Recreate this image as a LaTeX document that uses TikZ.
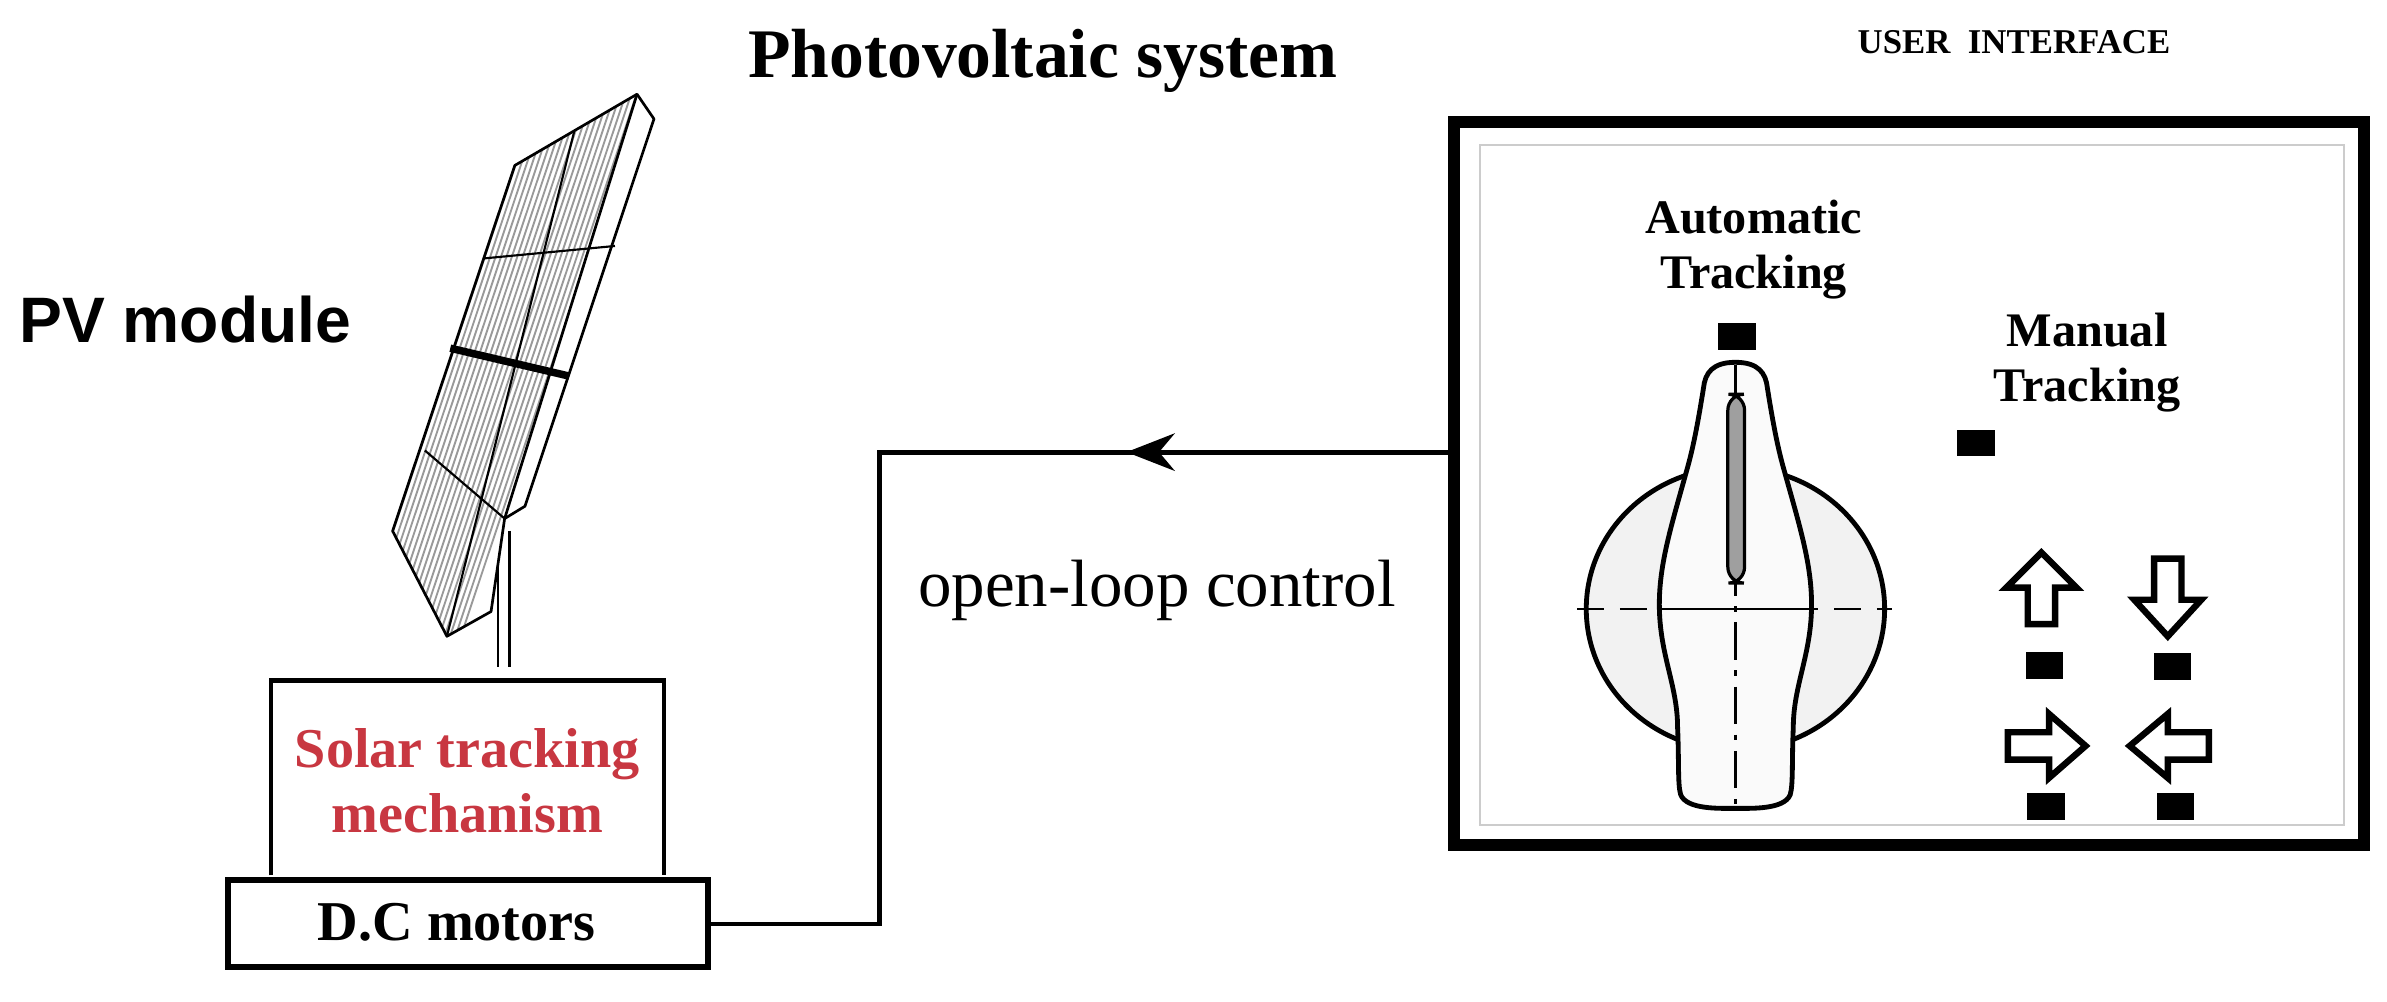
\documentclass[tikz,border=0pt]{standalone}
\usepackage{fontspec}
\setmainfont{Liberation Serif}
\newfontfamily\arialf{Liberation Sans}
\usetikzlibrary{arrows.meta}
\definecolor{redtxt}{RGB}{200,55,65}
\begin{document}
\begin{tikzpicture}[x=0.01cm,y=-0.01cm,
  sq/.style={fill=black,minimum width=7pt,minimum height=5pt,inner sep=0pt},
  blk/.style={draw=black,line width=1.2pt,fill=white,line join=miter},
  lbl/.style={font=\bfseries\fontsize{9}{10.3}\selectfont,align=center,inner sep=0pt}]
\useasboundingbox (0,0) rectangle (1568,658);

% titles
\node[font=\bfseries\fontsize{13}{15}\selectfont,inner sep=0pt] (title) at (685,40) {Photovoltaic system};
\node[font=\bfseries\fontsize{6.5}{8}\selectfont,inner sep=0pt] (uit) at (1323,28) {USER~~INTERFACE};
\node[font=\arialf\bfseries\fontsize{12}{14}\selectfont,inner sep=0pt,anchor=west] (pvm) at (12,210) {PV module};

% PV panel
\begin{scope}[shift={(162,11)},xscale=0.223,yscale=0.407]
  \draw[line width=0.5pt] (740,830) -- (740,1050);
  \draw[line width=0.5pt] (775,830) -- (775,1050);
  \fill[white] (790,240) -- (1150,125) -- (1200,165) -- (820,790) -- (760,810) -- (720,960) -- (590,1000) -- (430,830) -- cycle;
  \begin{scope}
    \clip (790,240) -- (1150,125) -- (760,810) -- (720,960) -- (590,1000) -- (430,830) -- cycle;
    \foreach \t in {-0.6,-0.545,...,1.1}
      \draw[gray!80,line width=0.35pt] ({790+\t*360},{240-\t*115}) -- ++(-600,984);
  \end{scope}
  \draw[line width=0.5pt,line join=round] (790,240) -- (1150,125) -- (1200,165) -- (820,790) -- (760,810) -- (720,960) -- (590,1000) -- (430,830) -- cycle;
  \draw[line width=0.5pt] (1150,125) -- (760,810);
  \draw[line width=0.4pt] (965,185) -- (590,1000);
  \draw[line width=0.4pt] (700,390) -- (1085,370);
  \draw[line width=1.4pt] (600,535) -- (950,580);
  \draw[line width=0.4pt] (525,700) -- (760,810);
\end{scope}

% solar tracking + motors
\draw[line width=0.8pt] (178,575) -- (178,447) -- (436,447) -- (436,575);
\node[font=\bfseries\fontsize{10.5}{12.2}\selectfont,text=redtxt,align=center,inner sep=0pt] (stm) at (307,513) {Solar tracking\\mechanism};
\draw[line width=1.1pt] (150,578) rectangle (465,635);
\node[font=\bfseries\fontsize{10.5}{12}\selectfont,inner sep=0pt] (dcm) at (300,606) {D.C motors};
\coordinate (dcr) at (465,607);

% user interface panel
\draw[line width=2.2pt] (955,80) rectangle (1553,555);
\draw[gray!40,line width=0.4pt] (972,95) rectangle (1540,542);
\coordinate (uil) at (955,297);

% connector
\coordinate (c1) at (578,607);
\coordinate (c2) at (578,297);
\coordinate (ah) at (740,297);
\draw[line width=0.9pt] (dcr) -- (c1) -- (c2) -- (uil);
\draw[line width=0.9pt,-{Stealth[length=9pt,width=7pt]}] (uil) -- (ah);
\node[font=\fontsize{12.5}{14}\selectfont,inner sep=0pt] (olc) at (760,388) {open-loop control};

% knob
\draw[line width=0.9pt,fill=gray!10] (1140,400) ellipse [x radius=98,y radius=93];
\draw[line width=0.9pt,fill=gray!4] (1140,238) .. controls (1155,238) and (1160,245) .. (1161,255)
  .. controls (1165,280) and (1168,295) .. (1172,309)
  .. controls (1182,345) and (1190,370) .. (1190,397)
  .. controls (1190,430) and (1178,450) .. (1178,478)
  .. controls (1177,500) and (1178,515) .. (1176,522)
  .. controls (1172,532) and (1150,531) .. (1140,531)
  .. controls (1130,531) and (1108,532) .. (1104,522)
  .. controls (1102,515) and (1103,500) .. (1102,478)
  .. controls (1102,450) and (1090,430) .. (1090,397)
  .. controls (1090,370) and (1098,345) .. (1108,309)
  .. controls (1112,295) and (1115,280) .. (1119,255)
  .. controls (1120,245) and (1125,238) .. (1140,238) -- cycle;
\draw[line width=0.4pt,dash pattern=on 7pt off 2pt on 1pt off 2pt] (1140,240) -- (1140,530);
\draw[line width=0.6pt,fill=gray!75,rounded corners=3] (1135,259) rectangle (1146,383);
\draw[line width=0.4pt,dash pattern=on 5pt off 3pt] (1036,400) -- (1243,400);
\draw[line width=0.4pt] (1090,400) -- (1190,400);

% labels and markers
\node[lbl] (auto) at (1152,164) {Automatic\\Tracking};
\node[sq] (sqa) at (1141,221) {};
\node[lbl] (man) at (1371,238) {Manual\\Tracking};
\node[sq] (sqm) at (1298,291) {};
\node[sq] (squ) at (1343,437) {};
\node[sq] (sqd) at (1427,438) {};
\node[sq] (sqr) at (1344,530) {};
\node[sq] (sql) at (1429,530) {};

% block arrows
\draw[blk] (1341,363) -- (1364,386) -- (1350,386) -- (1350,410) -- (1332,410) -- (1332,386) -- (1318,386) -- cycle;
\draw[blk] (1424,418) -- (1446,394) -- (1433,394) -- (1433,367) -- (1415,367) -- (1415,394) -- (1402,394) -- cycle;
\draw[blk] (1370,490) -- (1346,469) -- (1346,481) -- (1319,481) -- (1319,499) -- (1346,499) -- (1346,511) -- cycle;
\draw[blk] (1399,490) -- (1424,469) -- (1424,481) -- (1451,481) -- (1451,499) -- (1424,499) -- (1424,511) -- cycle;
\end{tikzpicture}
\end{document}
